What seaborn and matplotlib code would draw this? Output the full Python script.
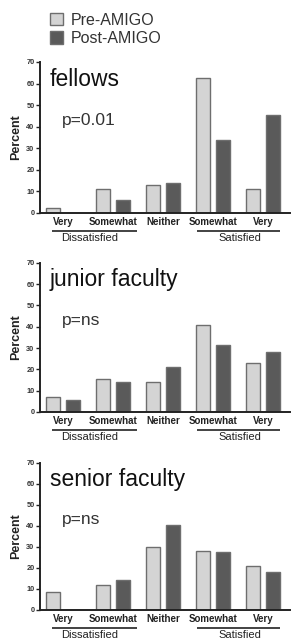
import matplotlib
matplotlib.use("Agg")
import matplotlib.pyplot as plt
import seaborn as sns
import pandas as pd

categories = ["Very dissatisfied", "Somewhat dissatisfied", "Neither", "Somewhat satisfied", "Very satisfied"]
tick_labels = ["Very", "Somewhat", "Neither", "Somewhat", "Very"]
series_names = ["Pre-AMIGO", "Post-AMIGO"]
panel_titles = ["fellows", "junior faculty", "senior faculty"]
p_values = ["p=0.01", "p=ns", "p=ns"]

fellows_pre = [2, 11, 13, 62.5, 11]
fellows_post = [0, 6, 13.8, 34, 45.3]
junior_pre = [7, 15.7, 13.9, 41, 22.9]
junior_post = [5.8, 14, 21, 31.6, 27.9]
senior_pre = [8.7, 11.9, 30, 28.2, 21]
senior_post = [0, 14.4, 40.3, 27.4, 18]

group_names = ["Dissatisfied", "Satisfied"]
group_members = [[0, 1], [3, 4]]
y_ticks = [0, 10, 20, 30, 40, 50, 60, 70]

panels = [(fellows_pre, fellows_post), (junior_pre, junior_post), (senior_pre, senior_post)]

sns.set_theme(style="ticks")
plt.rcParams['font.family'] = ['Liberation Sans', 'DejaVu Sans']

fig = plt.figure(figsize=(2.92, 6.42), dpi=100)
W, H = 292, 642
# axes boxes in pixels: left, right, top, bottom
boxes = [(40, 290, 62, 212.7), (40, 290, 262.7, 412), (40, 290, 462.7, 610)]
# how far each group underline reaches beyond its first / last member, and label shift
line_ext = [(-0.22, 0.48, -0.1), (-0.32, 0.34, 0.02)]

palette = {"Pre-AMIGO": "#d4d4d4", "Post-AMIGO": "#5a5a5a"}
handles = None
for (pre, post), title, pv, (l, r, t, b) in zip(panels, panel_titles, p_values, boxes):
    ax = fig.add_axes([l / W, 1 - b / H, (r - l) / W, (b - t) / H])
    df = pd.DataFrame({
        "category": categories * 2,
        "percent": list(pre) + list(post),
        "period": [series_names[0]] * 5 + [series_names[1]] * 5,
    })
    sns.barplot(data=df, x="category", y="percent", hue="period", order=categories,
                hue_order=series_names, palette=palette, saturation=1,
                width=0.78, gap=0.3, edgecolor="#6e6e6e", linewidth=1.0, ax=ax)
    h, lab = ax.get_legend_handles_labels()
    if handles is None:
        handles = (h, lab)
    if ax.get_legend() is not None:
        ax.get_legend().remove()
    ax.set_ylim(0, 70)
    ax.set_xlim(-0.46, 4.54)
    ax.set_yticks(y_ticks)
    ax.set_yticklabels([str(v) for v in y_ticks], fontsize=5.3, fontweight="bold", color="#333333")
    ax.set_xticks(range(len(categories)))
    ax.set_xticklabels(tick_labels, fontsize=7, fontweight="bold", color="#222222")
    ax.tick_params(axis="x", length=0, pad=3)
    ax.tick_params(axis="y", length=3, width=1, pad=1, color="#222222")
    ax.set_xlabel("")
    ax.set_ylabel("Percent", fontsize=9, fontweight="bold", labelpad=3, color="#222222")
    for s in ["top", "right"]:
        ax.spines[s].set_visible(False)
    for s in ["left", "bottom"]:
        ax.spines[s].set_linewidth(1.4)
        ax.spines[s].set_color("#222222")
    ax.text(0.04, 62, title, transform=ax.get_yaxis_transform(), fontsize=16.5,
            va="center", ha="left", color="#111111")
    ax.text(0.088, 43, pv, transform=ax.get_yaxis_transform(), fontsize=12.5,
            va="center", ha="left", color="#333333")
    tr = ax.get_xaxis_transform()
    for gname, members, (e0, e1, sh) in zip(group_names, group_members, line_ext):
        x0 = members[0] + e0
        x1 = members[-1] + e1
        ax.plot([x0, x1], [-0.123, -0.123], transform=tr, color="#222222", lw=1.2,
                clip_on=False, solid_capstyle="butt")
        ax.text((x0 + x1) / 2 + sh, -0.168, gname, transform=tr, ha="center", va="center",
                fontsize=8, color="#222222")

h, lab = handles
fig.legend(h, lab, loc="upper left", bbox_to_anchor=(40 / W, 1 - 3 / H), frameon=False,
           fontsize=11.5, handlelength=0.85, handleheight=0.85, handletextpad=0.45,
           labelspacing=0.2, borderpad=0.1, labelcolor="#333333")

fig.savefig("out.png", dpi=100)
